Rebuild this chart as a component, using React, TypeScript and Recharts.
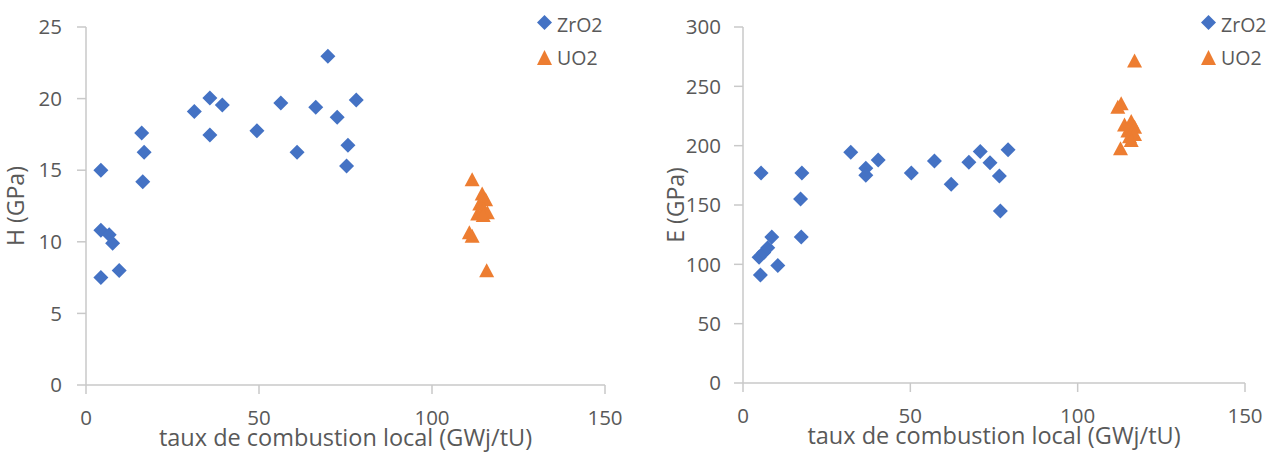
import { ScatterChart, Scatter, XAxis, YAxis } from "recharts"

// [burnup GWj/tU, value]
const zro2H = [
  [4.3, 15.0], [4.3, 10.8], [6.7, 10.5], [7.7, 9.9], [4.3, 7.5], [9.6, 8.0],
  [16.1, 17.6], [16.8, 16.25], [16.4, 14.2], [31.3, 19.1], [35.8, 20.05], [35.8, 17.45],
  [39.4, 19.55], [49.4, 17.75], [56.3, 19.7], [61.0, 16.25], [66.4, 19.4], [69.9, 22.95],
  [72.6, 18.7], [78.1, 19.9], [75.7, 16.75], [75.3, 15.3],
]
const uo2H = [
  [111.6, 14.3], [114.5, 13.3], [115.5, 12.9], [113.8, 12.6], [115.0, 12.2], [116.0, 12.0],
  [113.2, 11.9], [114.8, 11.8], [110.8, 10.6], [111.6, 10.35], [115.8, 7.95],
]
const zro2E = [
  [5.4, 177], [17.6, 177], [17.2, 155], [8.6, 123], [17.4, 123], [4.8, 106],
  [6.2, 110], [7.4, 114], [10.4, 99], [5.2, 91], [32.2, 194.5], [36.7, 181],
  [36.7, 175], [40.4, 188], [50.3, 177], [57.2, 187], [62.2, 167.5], [67.5, 186],
  [70.9, 195], [73.8, 185.5], [79.2, 196.5], [76.6, 174.5], [76.9, 145],
]
const uo2E = [
  [112.0, 232], [113.0, 235], [114.0, 217], [116.0, 220], [115.0, 212], [117.0, 215],
  [115.5, 207], [117.0, 209], [116.0, 204], [112.8, 197], [117.0, 271],
]

const xTicks = [0, 50, 100, 150]
const hTicks = [0, 5, 10, 15, 20, 25]
const eTicks = [0, 50, 100, 150, 200, 250, 300]
const xTitle = "taux de combustion local (GWj/tU)"

const BLUE = "#4472C4"
const ORANGE = "#ED7D31"
const GREY = "#595959"
const AXIS = "#c9c9c9"
const FONT = "'Open Sans', sans-serif"

const toPts = (arr: number[][]) => arr.map(([x, y]) => ({ x, y }))

const Diamond = (p: any) => {
  const r = 7.5
  return (
    <polygon
      points={`${p.cx},${p.cy - r} ${p.cx + r},${p.cy} ${p.cx},${p.cy + r} ${p.cx - r},${p.cy}`}
      fill={BLUE}
    />
  )
}

const Triangle = (p: any) => (
  <polygon
    points={`${p.cx},${p.cy - 8} ${p.cx + 7.5},${p.cy + 6} ${p.cx - 7.5},${p.cy + 6}`}
    fill={ORANGE}
  />
)

const LegendBox = ({ left }: { left: number }) => (
  <svg width={90} height={70} style={{ position: "absolute", left, top: 8, overflow: "visible" }}>
    <polygon points="7.5,7 15,14.5 7.5,22 0,14.5" fill={BLUE} />
    <text x={20} y={24} fontSize={19.5} fill={GREY} fontFamily={FONT}>ZrO2</text>
    <polygon points="7.5,42 15,57 0,57" fill={ORANGE} />
    <text x={20} y={57} fontSize={19.5} fill={GREY} fontFamily={FONT}>UO2</text>
  </svg>
)

const XTitle = ({ viewBox }: any) => (
  <text
    x={viewBox.x + viewBox.width / 2}
    y={viewBox.y + 61}
    textAnchor="middle"
    fontSize={23.5}
    fontFamily={FONT}
    fill={GREY}
  >
    {xTitle}
  </text>
)

const yTitle = (label: string, cx: number) => ({ viewBox }: any) => {
  const cy = viewBox.y + viewBox.height / 2
  return (
    <text
      x={cx}
      y={cy}
      transform={`rotate(-90 ${cx} ${cy})`}
      textAnchor="middle"
      dominantBaseline="central"
      fontSize={23}
      fontFamily={FONT}
      fill={GREY}
    >
      {label}
    </text>
  )
}

type PanelProps = {
  zr: number[][]
  uo: number[][]
  yTicks: number[]
  yLabel: string
  yLabelX: number
  yWidth: number
  yTickMargin: number
  marginRight: number
  marginBottom: number
  legendLeft: number
}

function Panel(p: PanelProps) {
  const tick = { fill: GREY, fontSize: 20.5, fontFamily: FONT }
  return (
    <div style={{ position: "relative", width: 643, height: 452 }}>
      <ScatterChart width={643} height={452} margin={{ top: 27, right: p.marginRight, bottom: p.marginBottom, left: 0 }}>
        <XAxis
          type="number"
          dataKey="x"
          domain={[0, 150]}
          ticks={xTicks}
          tick={tick}
          tickSize={9}
          tickMargin={16}
          stroke={AXIS}
          strokeWidth={1.5}
          height={62}
          label={{ content: XTitle }}
        />
        <YAxis
          type="number"
          dataKey="y"
          domain={[p.yTicks[0], p.yTicks[p.yTicks.length - 1]]}
          ticks={p.yTicks}
          tick={tick}
          tickSize={9}
          tickMargin={p.yTickMargin}
          stroke={AXIS}
          strokeWidth={1.5}
          width={p.yWidth}
          label={{ content: yTitle(p.yLabel, p.yLabelX) }}
        />
        <Scatter name="ZrO2" data={toPts(p.zr)} shape={Diamond} isAnimationActive={false} />
        <Scatter name="UO2" data={toPts(p.uo)} shape={Triangle} isAnimationActive={false} />
      </ScatterChart>
      <LegendBox left={p.legendLeft} />
    </div>
  )
}

export default function App() {
  return (
    <div style={{ position: "absolute", left: 0, top: 0, width: 1286, height: 452, display: "flex", background: "#fff" }}>
      <Panel zr={zro2H} uo={uo2H} yTicks={hTicks} yLabel="H (GPa)" yLabelX={15} yWidth={86} yTickMargin={15}
        marginRight={38} marginBottom={5} legendLeft={537} />
      <Panel zr={zro2E} uo={uo2E} yTicks={eTicks} yLabel="E (GPa)" yLabelX={32} yWidth={100} yTickMargin={13}
        marginRight={41} marginBottom={7} legendLeft={558} />
    </div>
  )
}
